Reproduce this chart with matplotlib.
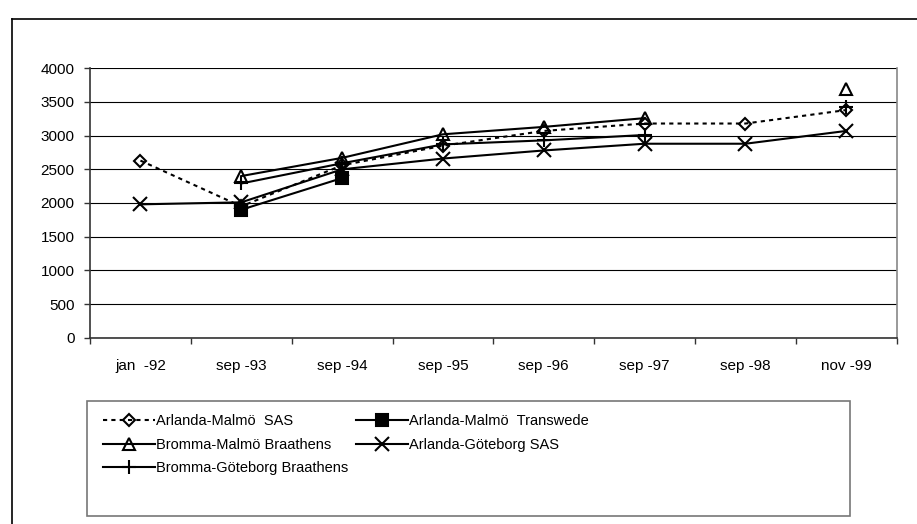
import matplotlib
matplotlib.use("Agg")
import matplotlib.pyplot as plt
import numpy as np
from matplotlib.lines import Line2D
from matplotlib.patches import Rectangle

# Categories on the x axis
PERIODS = ["jan  -92", "sep -93", "sep -94", "sep -95", "sep -96", "sep -97", "sep -98", "nov -99"]

# Values (nan = no value for that period)
nan = np.nan
arlanda_malmo_sas = [2630, 1950, 2560, 2850, 3070, 3180, 3180, 3380]
arlanda_malmo_transwede = [nan, 1900, 2370, nan, nan, nan, nan, nan]
bromma_malmo_braathens = [nan, 2400, 2670, 3020, 3130, 3260, nan, 3690]
arlanda_goteborg_sas = [1980, 2010, 2500, 2660, 2780, 2880, 2880, 3070]
bromma_goteborg_braathens = [nan, 2290, 2590, 2870, 2930, 3010, nan, 3430]

Y_TICKS = [0, 500, 1000, 1500, 2000, 2500, 3000, 3500, 4000]

plt.rcParams.update({
    "font.family": ["Liberation Sans", "DejaVu Sans"],
    "font.size": 10,
})

W, H = 917, 524
fig = plt.figure(figsize=(W / 100, H / 100), dpi=100, facecolor="white")
ax = fig.add_axes([90 / W, 1 - 337.7 / H, (896.7 - 90) / W, (337.7 - 68.3) / H])

x = np.arange(len(PERIODS))

series = [
    ("Arlanda-Malmö  SAS", arlanda_malmo_sas,
     dict(linestyle=(0, (2, 2)), marker="D", ms=6.5, mfc="none")),
    ("Arlanda-Malmö  Transwede", arlanda_malmo_transwede,
     dict(linestyle="-", marker="s", ms=8.5, mfc="black")),
    ("Bromma-Malmö Braathens", bromma_malmo_braathens,
     dict(linestyle="-", marker="^", ms=9, mfc="none")),
    ("Arlanda-Göteborg SAS", arlanda_goteborg_sas,
     dict(linestyle="-", marker="x", ms=9.5, mfc="none")),
    ("Bromma-Göteborg Braathens", bromma_goteborg_braathens,
     dict(linestyle="-", marker="+", ms=9.5, mfc="none")),
]

handles = {}
for label, values, style in series:
    (h,) = ax.plot(x, values, color="black", lw=1.5, mec="black", mew=1.5,
                   label=label, zorder=3, **style)
    handles[label] = h

ax.set_xlim(-0.5, len(PERIODS) - 0.5)
ax.set_ylim(0, 4000)
ax.set_yticks(Y_TICKS)
ax.set_xticks(x)
ax.set_xticklabels(PERIODS)
ax.set_xticks(np.arange(-0.5, len(PERIODS)), minor=True)
ax.tick_params(axis="x", which="major", length=0, pad=15, labelsize=11)
ax.tick_params(axis="x", which="minor", length=4, width=1, color="#333333")
ax.tick_params(axis="y", length=4, width=1, color="#333333", pad=7, labelsize=11)

ax.grid(axis="y", color="black", lw=0.8, zorder=1)
ax.set_axisbelow(True)

for side in ["left", "bottom"]:
    ax.spines[side].set_color("#333333")
    ax.spines[side].set_linewidth(1.2)
ax.spines["top"].set_visible(False)
ax.spines["right"].set_color("#888888")
ax.spines["right"].set_linewidth(1.2)

# Legend: 3 rows x 2 columns (filled column-wise)
order = ["Arlanda-Malmö  SAS", "Bromma-Malmö Braathens", "Bromma-Göteborg Braathens",
         "Arlanda-Malmö  Transwede", "Arlanda-Göteborg SAS"]
fig.legend(
    [handles[k] for k in order], order,
    loc="upper left",
    bbox_to_anchor=(103 / W, 1 - 414 / H),
    bbox_transform=fig.transFigure,
    ncol=2,
    frameon=False,
    borderpad=0,
    borderaxespad=0,
    handlelength=3.55,
    handletextpad=0.1,
    labelspacing=0.66,
    columnspacing=0.5,
    numpoints=1,
    fontsize=10.5,
)
fig.add_artist(Rectangle((87 / W, 1 - 516 / H), (850 - 87) / W, (516 - 401) / H,
                         transform=fig.transFigure, fill=False,
                         edgecolor="#777777", lw=1.2))

# Outer chart frame (clipped at right and bottom)
fig.add_artist(Line2D([12 / W, 12 / W], [0, 1 - 19 / H], transform=fig.transFigure,
                      color="black", lw=1.2))
fig.add_artist(Line2D([12 / W, 1], [1 - 19 / H, 1 - 19 / H], transform=fig.transFigure,
                      color="black", lw=1.2))

fig.savefig("out.png", dpi=100, facecolor="white")
